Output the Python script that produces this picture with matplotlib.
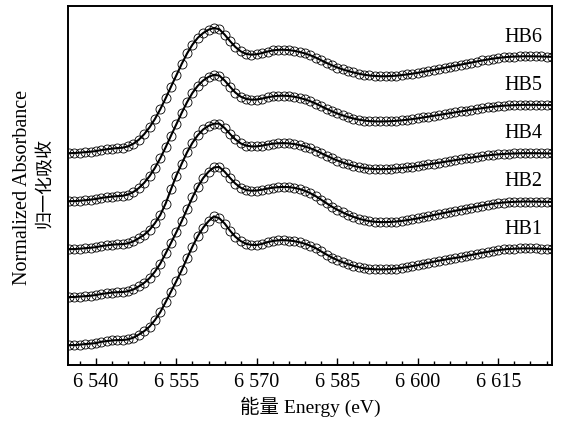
import matplotlib
matplotlib.use('Agg')
import matplotlib.pyplot as plt
from matplotlib.ticker import MultipleLocator, FixedLocator

plt.rcParams['font.family'] = ['Liberation Serif', 'Noto Sans CJK SC']

# Energía (eV), una medida por eV
energy = list(range(6535, 6626))

# Absorbancia normalizada
hb1 = [0.000, 0.000, 0.005, 0.011, 0.016, 0.021, 0.035, 0.042, 0.049, 0.053,
       0.053, 0.060, 0.079, 0.111, 0.147, 0.195, 0.263, 0.347, 0.453, 0.563,
       0.674, 0.789, 0.916, 1.037, 1.147, 1.237, 1.305, 1.355, 1.335, 1.280,
       1.205, 1.140, 1.095, 1.066, 1.055, 1.054, 1.066, 1.084, 1.096, 1.103,
       1.105, 1.101, 1.094, 1.082, 1.066, 1.045, 1.020, 0.986, 0.953, 0.922,
       0.895, 0.872, 0.852, 0.835, 0.820, 0.808, 0.802, 0.798, 0.797, 0.798,
       0.800, 0.806, 0.813, 0.821, 0.832, 0.842, 0.855, 0.866, 0.878, 0.889,
       0.899, 0.909, 0.918, 0.926, 0.938, 0.949, 0.960, 0.972, 0.981, 0.991,
       1.000, 1.007, 1.012, 1.015, 1.017, 1.018, 1.018, 1.017, 1.015, 1.012,
       1.008]
hb2 = [0.000, 0.002, 0.006, 0.010, 0.015, 0.022, 0.033, 0.041, 0.048, 0.052,
       0.054, 0.062, 0.081, 0.113, 0.150, 0.200, 0.268, 0.353, 0.460, 0.571,
       0.684, 0.800, 0.927, 1.050, 1.162, 1.254, 1.320, 1.365, 1.370, 1.320,
       1.255, 1.195, 1.152, 1.127, 1.120, 1.122, 1.131, 1.143, 1.152, 1.158,
       1.160, 1.158, 1.150, 1.137, 1.118, 1.093, 1.062, 1.025, 0.988, 0.952,
       0.920, 0.892, 0.866, 0.845, 0.826, 0.811, 0.800, 0.793, 0.790, 0.790,
       0.792, 0.796, 0.802, 0.810, 0.819, 0.829, 0.840, 0.852, 0.864, 0.876,
       0.887, 0.898, 0.909, 0.919, 0.930, 0.941, 0.952, 0.963, 0.973, 0.982,
       0.990, 0.996, 1.000, 1.003, 1.005, 1.006, 1.006, 1.005, 1.004, 1.003,
       1.002]
hb4 = [0.000, 0.001, 0.005, 0.010, 0.015, 0.021, 0.032, 0.040, 0.047, 0.051,
       0.053, 0.061, 0.082, 0.115, 0.152, 0.203, 0.273, 0.360, 0.480, 0.630,
       0.775, 0.900, 1.020, 1.120, 1.200, 1.260, 1.298, 1.320, 1.322, 1.275,
       1.212, 1.155, 1.113, 1.090, 1.081, 1.082, 1.090, 1.101, 1.110, 1.115,
       1.116, 1.113, 1.106, 1.095, 1.080, 1.061, 1.038, 1.010, 0.983, 0.957,
       0.933, 0.912, 0.893, 0.877, 0.864, 0.854, 0.847, 0.843, 0.842, 0.843,
       0.845, 0.849, 0.854, 0.860, 0.867, 0.875, 0.883, 0.892, 0.901, 0.910,
       0.919, 0.928, 0.937, 0.946, 0.955, 0.964, 0.972, 0.980, 0.987, 0.993,
       0.998, 1.002, 1.005, 1.007, 1.009, 1.010, 1.010, 1.010, 1.009, 1.008,
       1.007]
hb5 = [0.000, 0.001, 0.005, 0.010, 0.016, 0.023, 0.034, 0.042, 0.048, 0.053,
       0.057, 0.070, 0.097, 0.138, 0.193, 0.263, 0.350, 0.452, 0.567, 0.690,
       0.810, 0.930, 1.043, 1.140, 1.215, 1.270, 1.308, 1.330, 1.322, 1.270,
       1.205, 1.143, 1.100, 1.077, 1.068, 1.070, 1.080, 1.093, 1.103, 1.109,
       1.110, 1.107, 1.099, 1.087, 1.071, 1.051, 1.027, 0.999, 0.972, 0.946,
       0.923, 0.903, 0.885, 0.870, 0.858, 0.849, 0.843, 0.840, 0.839, 0.840,
       0.842, 0.846, 0.851, 0.857, 0.864, 0.872, 0.881, 0.890, 0.899, 0.908,
       0.917, 0.926, 0.935, 0.944, 0.953, 0.962, 0.971, 0.979, 0.987, 0.994,
       1.000, 1.005, 1.008, 1.011, 1.013, 1.014, 1.014, 1.014, 1.013, 1.012,
       1.011]
hb6 = [0.000, 0.002, 0.006, 0.011, 0.016, 0.022, 0.033, 0.041, 0.048, 0.054,
       0.058, 0.072, 0.100, 0.142, 0.200, 0.272, 0.360, 0.463, 0.578, 0.700,
       0.820, 0.940, 1.050, 1.143, 1.215, 1.265, 1.300, 1.318, 1.305, 1.248,
       1.180, 1.118, 1.072, 1.045, 1.037, 1.042, 1.055, 1.070, 1.082, 1.088,
       1.089, 1.085, 1.077, 1.065, 1.050, 1.030, 1.006, 0.978, 0.950, 0.925,
       0.902, 0.882, 0.865, 0.850, 0.837, 0.826, 0.818, 0.813, 0.810, 0.810,
       0.812, 0.816, 0.822, 0.829, 0.837, 0.846, 0.856, 0.866, 0.877, 0.888,
       0.899, 0.910, 0.921, 0.932, 0.943, 0.954, 0.965, 0.976, 0.986, 0.995,
       1.003, 1.009, 1.014, 1.017, 1.019, 1.020, 1.020, 1.019, 1.018, 1.016,
       1.014]

samples = ['HB1', 'HB2', 'HB4', 'HB5', 'HB6']
spectra = [hb1, hb2, hb4, hb5, hb6]
offsets = [0.0, 0.505, 1.01, 1.515, 2.02]

xticks = [6540, 6555, 6570, 6585, 6600, 6615]

# Crear el gráfico
fig = plt.figure(figsize=(5.62, 4.24), dpi=100)
ax = fig.add_axes([0.121, 0.139, 0.861, 0.847])

for name, vals, off in zip(samples, spectra, offsets):
    y = [v + off for v in vals]
    ax.plot(energy, y, linestyle='none', marker='o', ms=6.5, mfc='none',
            mec='black', mew=0.6)
    ax.plot(energy, y, color='black', lw=1.5)
    ax.text(6619.7, off + 1.22, name, fontsize=14.5, ha='center', va='center')

ax.set_xlim(6534.8, 6625.0)
ax.set_ylim(-0.21, 3.57)
ax.xaxis.set_major_locator(FixedLocator(xticks))
ax.set_xticklabels(['6 ' + str(t)[1:] for t in xticks])
ax.xaxis.set_minor_locator(MultipleLocator(3))
ax.set_yticks([])
ax.tick_params(axis='x', which='major', direction='in', length=5, width=1,
               labelsize=14.5, pad=6)
ax.tick_params(axis='x', which='minor', direction='in', length=3, width=1)
for s in ax.spines.values():
    s.set_linewidth(1.4)

ax.set_xlabel('能量 Energy (eV)', fontsize=14, labelpad=3)
fig.text(22.5 / 562, 1 - 187.5 / 424, 'Normalized Absorbance', rotation=90,
         fontsize=14.5, ha='center', va='center')
fig.text(45 / 562, 1 - 183 / 424, '归一化吸收', rotation=90,
         fontsize=13, ha='center', va='center')

plt.savefig('out.png', dpi=100)
